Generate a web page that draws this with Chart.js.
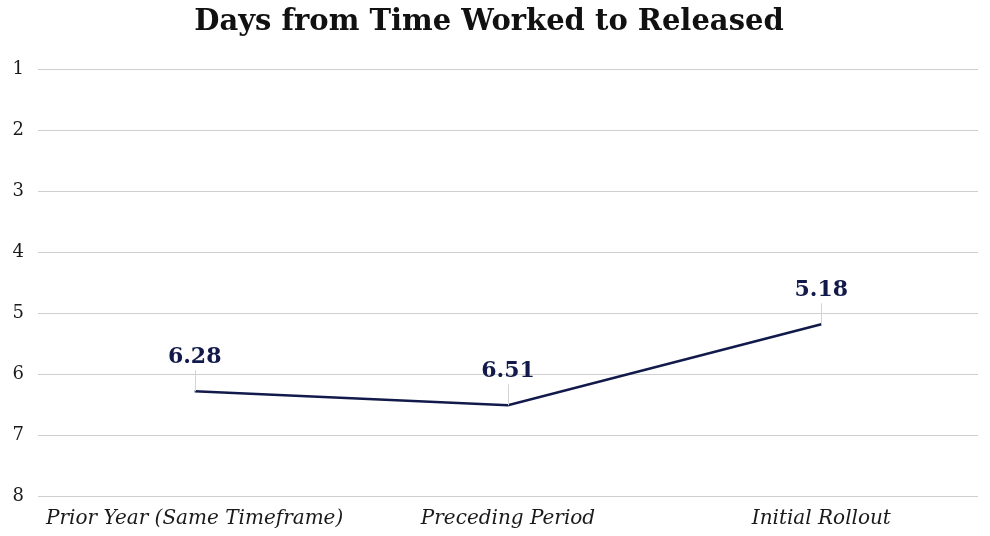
<!DOCTYPE html>
<html>
<head>
<meta charset="utf-8">
<script src="https://cdn.jsdelivr.net/npm/chart.js@4.4.1/dist/chart.umd.min.js"></script>
<style>
  html, body { margin: 0; padding: 0; background: #ffffff; }
  #wrap { width: 990px; height: 536px; }
</style>
</head>
<body>
<div id="wrap"><canvas id="c" width="990" height="536"></canvas></div>
<script>
const categories = ['Prior Year (Same Timeframe)', 'Preceding Period', 'Initial Rollout'];
const daysToRelease = [6.28, 6.51, 5.18];
const yTicks = [1, 2, 3, 4, 5, 6, 7, 8];

const NAVY = '#111a4a';
const SERIF = '"DejaVu Serif", "Liberation Serif", serif';

// Value labels sitting above each point, tied to it by a thin leader line
const valueLabels = {
  id: 'valueLabels',
  afterDatasetsDraw(chart) {
    const ctx = chart.ctx;
    const meta = chart.getDatasetMeta(0);
    const ds = chart.data.datasets[0];
    ctx.save();
    meta.data.forEach((pt, i) => {
      const x = pt.x, y = pt.y;
      const labelY = y - 34;
      ctx.strokeStyle = '#d4d4d4';
      ctx.lineWidth = 1;
      ctx.beginPath();
      ctx.moveTo(Math.round(x) + 0.5, labelY + 13);
      ctx.lineTo(Math.round(x) + 0.5, y);
      ctx.stroke();
      ctx.font = 'bold 22px ' + SERIF;
      ctx.fillStyle = NAVY;
      ctx.textAlign = 'center';
      ctx.textBaseline = 'middle';
      ctx.fillText(ds.data[i].toFixed(2), x, labelY);
    });
    ctx.restore();
  }
};

new Chart(document.getElementById('c'), {
  type: 'line',
  data: {
    labels: categories,
    datasets: [{
      data: daysToRelease,
      borderColor: NAVY,
      borderWidth: 2.6,
      pointRadius: 0,
      tension: 0,
      fill: false
    }]
  },
  options: {
    responsive: false,
    animation: false,
    layout: { padding: { left: 0, right: 12, top: 0, bottom: 0 } },
    plugins: {
      legend: { display: false },
      tooltip: { enabled: false },
      title: {
        display: true,
        text: 'Days from Time Worked to Released',
        color: '#111111',
        font: { family: SERIF, size: 29, weight: 'bold' },
        padding: { top: 5, bottom: 30 }
      }
    },
    scales: {
      x: {
        offset: true,
        grid: { display: false, drawTicks: false },
        border: { display: false },
        afterFit(axis) { axis.height = 40; },
        ticks: {
          color: '#1a1a1a',
          font: { family: SERIF, size: 20, style: 'italic' },
          padding: 11,
          maxRotation: 0
        }
      },
      y: {
        reverse: true,
        min: yTicks[0],
        max: yTicks[yTicks.length - 1],
        afterBuildTicks(axis) { axis.ticks = yTicks.map(v => ({ value: v })); },
        afterFit(axis) { axis.width = 38; },
        grid: { color: '#cfcfcf', lineWidth: 1, drawTicks: false },
        border: { display: false },
        ticks: {
          color: '#1a1a1a',
          font: { family: SERIF, size: 18 },
          padding: 14
        }
      }
    }
  },
  plugins: [valueLabels]
});
</script>
</body>
</html>
